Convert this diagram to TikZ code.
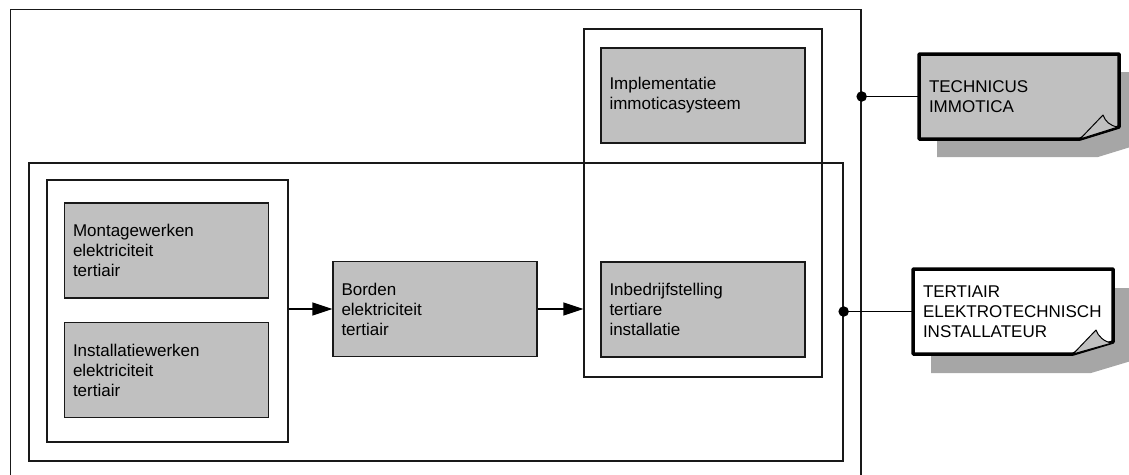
\documentclass[tikz,border=0pt]{standalone}
\usepackage{fontspec}
\newfontfamily\diagfont{Liberation Sans}
\usetikzlibrary{arrows.meta}
\definecolor{boxgray}{HTML}{C0C0C0}
\definecolor{shadowgray}{HTML}{A6A6A6}
\begin{document}
\begin{tikzpicture}[x=1pt,y=-1pt,
  txt/.style={font=\diagfont\fontsize{17}{20}\selectfont},
  frame/.style={draw=black!90, line width=1.3pt, fill=none, inner sep=0pt},
  gbox/.style={txt, draw=black!90, fill=boxgray, line width=1.3pt, minimum width=204pt, minimum height=95pt, text width=187pt, inner xsep=8.5pt, inner ysep=0pt, align=left},
  notetext/.style={txt, minimum width=200pt, minimum height=85pt, text width=180pt, inner xsep=10pt, inner ysep=0pt, align=left},
  noteline/.style={draw=black, line width=3.5pt, line join=round},
  fold/.style={draw=black, line width=1pt, fill=boxgray, line join=round},
  conn/.style={draw=black, line width=1.3pt},
  arr/.style={conn, -{Triangle[length=20pt,width=13pt]}},
  dot/.style={circle, fill=black, inner sep=0pt, minimum size=10.5pt}
]
\useasboundingbox (0,0) rectangle (1129,474);
\clip (0,0) rectangle (1129,474);
% containers
\node[frame, minimum width=850.5pt, minimum height=466.5pt] (outer) at (435.75,242.75) {};
\node[frame, minimum width=814pt, minimum height=298pt] (inner) at (436,312) {};
\node[frame, minimum width=241pt, minimum height=262pt] (grp) at (167.5,311) {};
\node[frame, minimum width=238pt, minimum height=348pt] (col) at (703,203) {};
% activity boxes
\node[gbox] (mont) at (166.5,250.5) {Montagewerken\\elektriciteit\\tertiair};
\node[gbox] (inst) at (166.5,370) {Installatiewerken\\elektriciteit\\tertiair};
\node[gbox] (bord) at (435,309) {Borden\\elektriciteit\\tertiair};
\node[gbox] (impl) at (703,95.5) {Implementatie\\immoticasysteem};
\node[gbox] (inbe) at (703,309.5) {Inbedrijfstelling\\tertiare\\installatie};
% arrows
\draw[arr] (grp.east |- bord.west) -- (bord.west);
\draw[arr] (bord.east) -- (col.west |- bord.east);
% note 1: TECHNICUS IMMOTICA
\fill[shadowgray] (937,72) -- (1137,72) -- (1137,145) -- (1098,157) -- (937,157) -- cycle;
\path[noteline, fill=boxgray] (919,54) -- (1119,54) -- (1119,127) -- (1080,139) -- (919,139) -- cycle;
\path[fold] (1080,139) -- (1103,115) .. controls (1105,121) and (1110,126) .. (1118,127) -- cycle;
\node[notetext] (tech) at (1019,96.5) {TECHNICUS\\IMMOTICA};
% note 2: TERTIAIR ELEKTROTECHNISCH INSTALLATEUR
\fill[shadowgray] (931,288) -- (1131,288) -- (1131,361) -- (1091,373) -- (931,373) -- cycle;
\path[noteline, fill=white] (913,269) -- (1113,269) -- (1113,342) -- (1073,354) -- (913,354) -- cycle;
\path[fold] (1073,354) -- (1096,330) .. controls (1098,336) and (1104,342) .. (1112,343) -- cycle;
\node[notetext] (tert) at (1013,311.5) {TERTIAIR\\ELEKTROTECHNISCH\\INSTALLATEUR};
% connectors to notes
\node[dot] (d1) at (outer.east |- tech.west) {};
\node[dot] (d2) at (inner.east |- tert.west) {};
\draw[conn] (d1.center) -- (tech.west);
\draw[conn] (d2.center) -- (tert.west);
\end{tikzpicture}
\end{document}
